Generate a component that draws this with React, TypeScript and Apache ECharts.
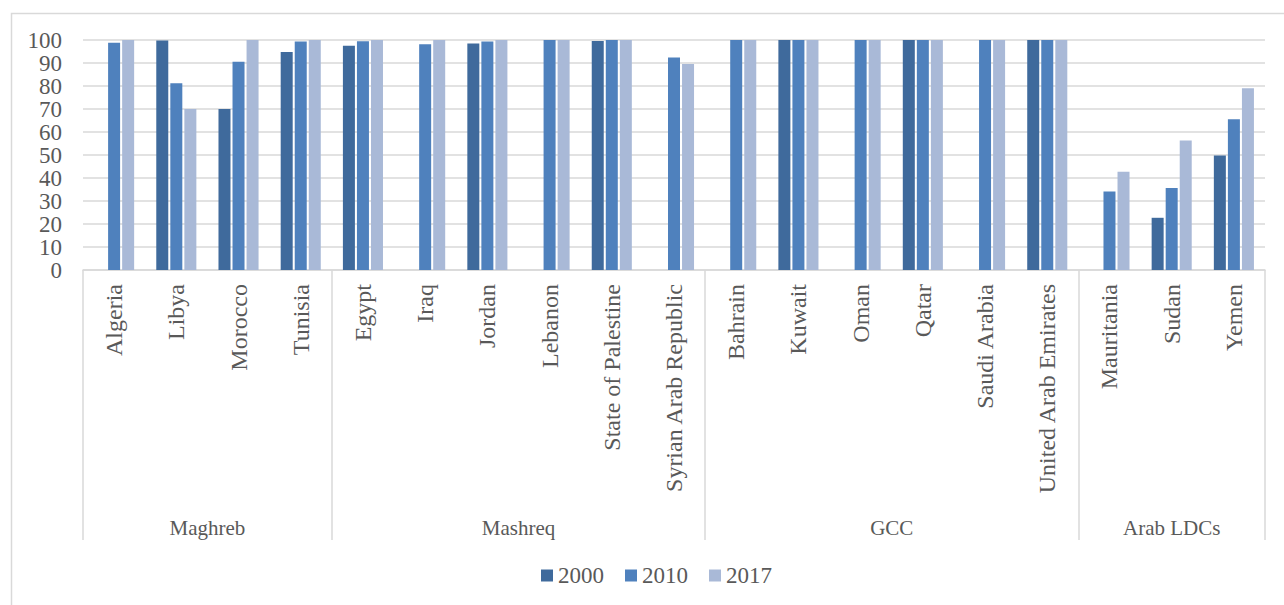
import React, { useEffect, useRef } from "react";
import * as echarts from "echarts";

const countries = [
  "Algeria", "Libya", "Morocco", "Tunisia",
  "Egypt", "Iraq", "Jordan", "Lebanon", "State of Palestine", "Syrian Arab Republic",
  "Bahrain", "Kuwait", "Oman", "Qatar", "Saudi Arabia", "United Arab Emirates",
  "Mauritania", "Sudan", "Yemen",
];
const groups = ["Maghreb", "Mashreq", "GCC", "Arab LDCs"];
const groupSizes = [4, 6, 6, 3];
const seriesNames = ["2000", "2010", "2017"];
const values2000: (number | null)[] = [
  null, 99.8, 70, 94.8,
  97.5, null, 98.5, null, 99.6, null,
  null, 100, null, 100, null, 100,
  null, 22.7, 49.8,
];
const values2010: (number | null)[] = [
  98.8, 81.2, 90.5, 99.4,
  99.5, 98.2, 99.3, 100, 100, 92.4,
  100, 100, 100, 100, 100, 100,
  34.1, 35.6, 65.5,
];
const values2017: (number | null)[] = [
  100, 70, 100, 100,
  100, 100, 100, 100, 100, 89.6,
  100, 100, 100, 100, 100, 100,
  42.7, 56.3, 79,
];
const yTicks = [0, 10, 20, 30, 40, 50, 60, 70, 80, 90, 100];
const colors = ["#3F6A9C", "#4F81BD", "#A9B9D7"];

const FONT = "Liberation Serif";
const TEXT = "#595959";
const GRID = "#d9d9d9";

export default function App() {
  const ref = useRef<HTMLDivElement>(null);
  useEffect(() => {
    if (!ref.current) return;
    const chart = echarts.init(ref.current, undefined, { renderer: "svg" });
    const bounds: number[] = [0];
    groupSizes.forEach((s, i) => bounds.push(bounds[i] + s));
    const centers = groupSizes.map((s, i) => bounds[i] + s / 2);
    const dataSets = [values2000, values2010, values2017];
    chart.setOption({
      animation: false,
      backgroundColor: "#fff",
      textStyle: { fontFamily: FONT, color: TEXT },
      graphic: [
        {
          type: "rect",
          left: 9,
          top: 11,
          shape: { width: 1400, height: 700 },
          style: { fill: "none", stroke: GRID, lineWidth: 1.5 },
          silent: true,
        },
      ],
      grid: { left: 83, right: 19, top: 40, bottom: 335, containLabel: false },
      legend: {
        data: seriesNames,
        left: 536,
        top: 559,
        icon: "rect",
        itemWidth: 12,
        itemHeight: 12,
        itemGap: 21,
        textStyle: { fontFamily: FONT, fontSize: 23, color: TEXT },
      },
      xAxis: [
        {
          type: "category",
          data: countries,
          position: "bottom",
          axisLine: { show: true, lineStyle: { color: GRID, width: 1.5 } },
          axisTick: { show: false },
          axisLabel: {
            rotate: 90,
            interval: 0,
            margin: 14,
            fontFamily: FONT,
            fontSize: 24,
            color: TEXT,
          },
        },
        {
          type: "value",
          min: 0,
          max: countries.length,
          position: "bottom",
          axisLine: { show: false },
          splitLine: { show: false },
          axisTick: {
            show: true,
            customValues: bounds,
            length: 270,
            lineStyle: { color: GRID, width: 1.5 },
          },
          axisLabel: {
            customValues: centers,
            margin: 247,
            fontFamily: FONT,
            fontSize: 21,
            color: TEXT,
            formatter: (v: number) => {
              const i = centers.indexOf(v);
              return i >= 0 ? groups[i] : "";
            },
          },
        },
      ],
      yAxis: {
        type: "value",
        min: yTicks[0],
        max: yTicks[yTicks.length - 1],
        interval: yTicks[1] - yTicks[0],
        axisLine: { show: false },
        axisTick: { show: false },
        splitLine: { show: true, lineStyle: { color: GRID, width: 1.5 } },
        axisLabel: { fontFamily: FONT, fontSize: 23, color: TEXT, margin: 21 },
      },
      series: seriesNames.map((name, i) => ({
        name,
        type: "bar",
        xAxisIndex: 0,
        data: dataSets[i],
        barWidth: 12,
        barGap: "17%",
        itemStyle: { color: colors[i] },
      })),
    });
    return () => chart.dispose();
  }, []);
  return (
    <div
      ref={ref}
      style={{ position: "fixed", left: 0, top: 0, width: 1284, height: 605 }}
    />
  );
}
